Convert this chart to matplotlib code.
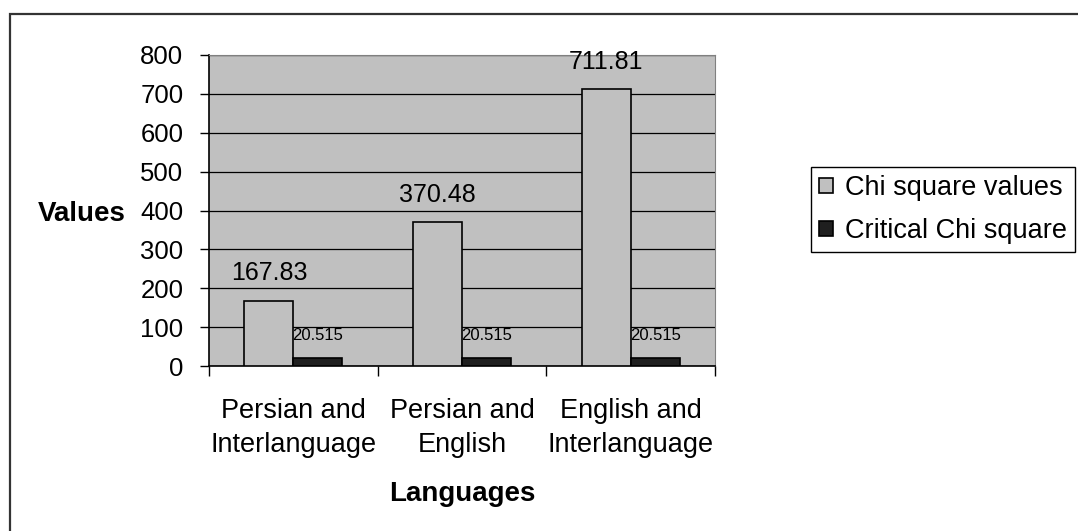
import numpy as np
import matplotlib.pyplot as plt
from matplotlib.patches import Rectangle
from matplotlib.ticker import FixedLocator

plt.rcParams['font.family'] = ['Liberation Sans', 'DejaVu Sans']

categories = ["Persian and\nInterlanguage", "Persian and\nEnglish", "English and\nInterlanguage"]
chi_values = [167.83, 370.48, 711.81]
critical_values = [20.515, 20.515, 20.515]
yticks = [0, 100, 200, 300, 400, 500, 600, 700, 800]

fig = plt.figure(figsize=(10.78, 5.31), dpi=100)
ax = fig.add_axes([209 / 1078, 1 - 366 / 531, 506 / 1078, 311 / 531])

x = np.arange(len(categories))
w = 0.29
b1 = ax.bar(x - w / 2, chi_values, w, color="#c0c0c0", edgecolor="black", lw=1.2,
            label="Chi square values", zorder=3)
b2 = ax.bar(x + w / 2, critical_values, w, color="#1f1f1f", edgecolor="black", lw=1.2,
            label="Critical Chi square", zorder=3)

for rect, v in zip(b1, chi_values):
    ax.annotate(f"{v:.2f}", (rect.get_x() + rect.get_width() / 2, v), xytext=(0, 11),
                textcoords="offset points", ha="center", va="bottom", fontsize=18)
for rect, v in zip(b2, critical_values):
    ax.annotate(f"{v:.3f}", (rect.get_x() + rect.get_width() / 2, v), xytext=(0, 11),
                textcoords="offset points", ha="center", va="bottom", fontsize=12)

ax.set_facecolor("#c0c0c0")
ax.set_xlim(-0.5, 2.5)
ax.set_ylim(0, 800)
ax.set_yticks(yticks)
ax.yaxis.grid(True, color="black", lw=0.9, zorder=1)
ax.set_axisbelow(True)

ax.set_xticks(x)
ax.set_xticklabels(categories, fontsize=19.5, linespacing=1.42)
ax.xaxis.set_minor_locator(FixedLocator([-0.5, 0.5, 1.5, 2.5]))
ax.tick_params(axis="x", which="major", length=0, pad=23)
ax.tick_params(axis="x", which="minor", length=7, width=1, direction="out")
ax.tick_params(axis="y", length=6.5, width=1, direction="out", labelsize=18.5, pad=12)

for s in ("top", "right"):
    ax.spines[s].set_color("#808080")
for s in ("left", "bottom"):
    ax.spines[s].set_color("black")
    ax.spines[s].set_linewidth(1.2)

ax.set_ylabel("Values", fontsize=20, fontweight="bold", rotation=0, ha="right", va="center")
ax.yaxis.set_label_coords(-0.164, 0.49)
ax.set_xlabel("Languages", fontsize=20, fontweight="bold", labelpad=16)

fig.legend(handles=[b1, b2], loc="upper left", bbox_to_anchor=(811 / 1078, 1 - 167 / 531),
           fontsize=19.5, frameon=True, fancybox=False, edgecolor="black", framealpha=1,
           handlelength=0.5, handleheight=0.5, handletextpad=0.45, borderpad=0.3,
           labelspacing=0.62, borderaxespad=0)

# outer chart border
fig.patches.append(Rectangle((10 / 1078, -0.1), 1.2, 1.1 - 14 / 531, transform=fig.transFigure,
                             fill=False, edgecolor="#333333", lw=1.6))

fig.savefig("out.png", dpi=100)
